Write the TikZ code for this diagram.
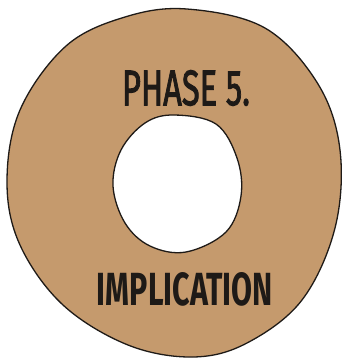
\documentclass[tikz,border=0pt]{standalone}
\usepackage{fontspec}
\setmainfont{Fira Sans}
\newfontfamily\brushfont[FakeBold=2.2]{Fira Sans}
\usepackage{graphicx}
\definecolor{tan}{HTML}{C59A6D}
\definecolor{ink}{HTML}{1E1A17}
\tikzset{
  ring/.style={fill=tan, draw=ink, line width=1.3pt, even odd rule, line join=round},
  lbl/.style={inner sep=0pt, text=ink}
}
\begin{document}
\begin{tikzpicture}[x=1pt,y=-1pt]
\useasboundingbox (0,0) rectangle (342,360);
\fill[white] (0,0) rectangle (342,360);
\path[ring] plot[smooth cycle, tension=0.6] coordinates {
 (187,9) (265,28) (318,84) (340,150) (335,228) (302,300) (247,343) (193,357)
 (128,345) (63,305) (20,245) (7,182) (20,110) (66,46) (125,17)}
 plot[smooth cycle, tension=0.6] coordinates {
 (174,115) (216,124) (237,158) (241,196) (226,232) (186,252) (150,246)
 (125,223) (113,186) (121,150) (145,123)};
\node[lbl, font=\brushfont] (phase) at (186,88) {\resizebox{128pt}{35pt}{PHASE 5.}};
\node[lbl, font=\bfseries] (impl) at (185,289) {\resizebox{176pt}{33pt}{IMPLICATION}};
\end{tikzpicture}
\end{document}
